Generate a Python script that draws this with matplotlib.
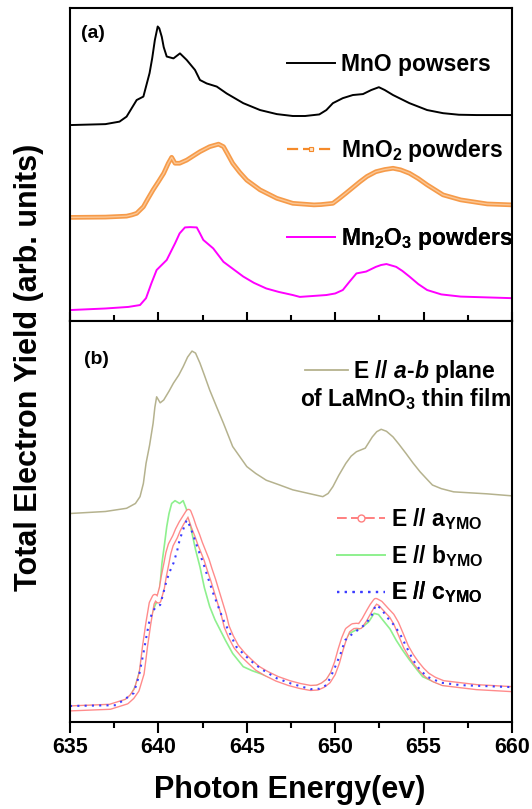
import matplotlib
matplotlib.use("Agg")
import matplotlib.pyplot as plt
from matplotlib.lines import Line2D
from matplotlib.ticker import MultipleLocator

plt.rcParams['font.family'] = ['Liberation Sans', 'DejaVu Sans']
plt.rcParams['font.weight'] = 'bold'
plt.rcParams['mathtext.fontset'] = 'custom'
plt.rcParams['mathtext.rm'] = 'Liberation Sans:bold'
plt.rcParams['mathtext.it'] = 'Liberation Sans:bold:italic'
plt.rcParams['mathtext.bf'] = 'Liberation Sans:bold'

# ---- panel (a): powder references (arb. units)
mno_e = [635.0, 637.0, 637.8, 638.2, 638.77, 639.15, 639.5, 639.65, 639.8, 639.96,
         640.05, 640.19, 640.3, 640.47, 640.85, 641.22, 641.6, 642.07, 642.35, 642.73,
         643.3, 643.86, 644.8, 645.75, 646.7, 647.6, 648.3, 649.1, 649.5, 649.87,
         650.43, 651.0, 651.57, 652.04, 652.47, 652.8, 653.27, 654.2, 655.2, 656.1,
         657.0, 658.0, 660.0]
mno_y = [62.6, 62.9, 63.7, 65.3, 70.6, 71.7, 79.2, 84.0, 89.8, 94.1,
         93.5, 90.8, 87.5, 84.5, 83.9, 85.5, 83.4, 80.2, 77.0, 75.9,
         74.9, 72.7, 69.6, 67.4, 66.1, 65.5, 65.5, 66.0, 67.4, 69.6,
         71.2, 72.2, 72.5, 73.8, 74.7, 73.8, 72.2, 69.6, 67.4, 66.4,
         65.9, 65.8, 65.8]

mno2_e = [635.0, 637.0, 638.2, 638.5, 638.77, 639.15, 639.4, 639.7, 640.0, 640.3,
          640.56, 640.75, 640.94, 641.2, 641.6, 642.35, 642.9, 643.4, 643.68, 643.9,
          644.2, 644.6, 645.0, 645.75, 646.7, 647.6, 648.8, 649.2, 649.87, 650.2,
          650.6, 651.4, 651.8, 652.3, 652.8, 653.27, 653.7, 654.2, 654.7, 655.2,
          656.1, 657.1, 658.6, 660.0]
mno2_y = [33.1, 33.2, 33.5, 33.9, 34.4, 36.5, 39.0, 41.9, 44.5, 47.2,
          50.4, 52.3, 50.4, 50.4, 51.4, 54.1, 55.7, 56.5, 55.7, 53.5,
          50.4, 47.5, 45.0, 41.9, 39.2, 37.6, 37.1, 37.2, 37.6, 39.0,
          40.8, 44.5, 46.2, 47.7, 48.4, 48.8, 48.3, 47.2, 45.5, 43.5,
          40.3, 38.7, 37.4, 37.1]

mn2o3_e = [635.0, 637.0, 638.3, 638.96, 639.3, 639.6, 639.9, 640.47, 640.94, 641.2,
           641.5, 641.8, 642.17, 642.35, 642.54, 643.1, 643.68, 644.8, 645.4, 646.1,
           646.8, 647.6, 648.0, 649.5, 650.0, 650.43, 650.8, 651.2, 651.75, 652.3,
           652.6, 652.9, 653.45, 653.8, 654.2, 654.7, 655.2, 656.0, 657.1, 660.0]
mn2o3_y = [3.5, 4.0, 4.5, 5.1, 7.3, 12.0, 16.3, 19.5, 24.8, 28.0,
           29.9, 30.0, 29.9, 28.0, 25.9, 23.2, 18.9, 14.2, 12.2, 10.4,
           9.3, 8.3, 7.7, 8.3, 8.8, 9.9, 12.5, 15.2, 15.8, 17.3,
           17.9, 18.2, 17.3, 16.0, 14.2, 11.8, 9.9, 8.5, 7.8, 7.3]

# ---- panel (b): LaMnO3 film and YMO polarisations
lmo_e = [635.0, 637.0, 638.2, 638.7, 638.96, 639.15, 639.3, 639.5, 639.7, 639.8,
         639.9, 640.1, 640.3, 640.6, 640.85, 641.15, 641.4, 641.65, 641.9, 642.1,
         642.35, 642.6, 642.9, 643.3, 643.68, 644.2, 645.0, 645.5, 646.1, 646.8,
         647.6, 648.5, 649.3, 649.6, 649.87, 650.2, 650.6, 650.9, 651.2, 651.7,
         652.1, 652.35, 652.6, 652.9, 653.27, 653.6, 654.0, 654.4, 654.8, 655.2,
         655.5, 656.0, 656.7, 658.6, 660.0]
lmo_y = [52.0, 52.5, 53.3, 54.5, 56.2, 59.5, 64.5, 69.0, 74.5, 78.5,
         81.1, 79.6, 80.3, 82.5, 84.5, 86.5, 88.6, 91.0, 92.5, 92.0,
         89.5, 86.5, 82.8, 78.5, 74.5, 68.7, 63.7, 62.0, 60.3, 59.2,
         57.9, 57.0, 56.2, 57.0, 58.7, 61.5, 64.5, 66.3, 67.4, 68.3,
         71.1, 72.4, 73.0, 72.5, 71.1, 69.3, 67.0, 64.6, 62.4, 60.5,
         59.1, 58.2, 57.4, 56.9, 56.4]

ya_e = [635.0, 637.26, 638.2, 638.5, 638.77, 639.05, 639.15, 639.24, 639.43, 639.62,
        639.8, 640.0, 640.2, 640.3, 640.45, 640.56, 640.7, 640.94, 641.1, 641.3,
        641.5, 641.7, 641.85, 642.0, 642.2, 642.35, 642.73, 642.9, 643.1, 643.3,
        643.5, 643.7, 643.86, 644.1, 644.4, 644.8, 645.2, 645.6, 646.1, 646.7,
        647.4, 648.0, 648.6, 649.0, 649.3, 649.6, 649.87, 650.1, 650.3, 650.5,
        650.7, 651.0, 651.2, 651.4, 651.65, 651.9, 652.1, 652.3, 652.55, 652.9,
        653.2, 653.45, 653.7, 654.0, 654.3, 654.6, 654.9, 655.2, 655.6, 656.1,
        658.0, 660.0]
ya_y = [3.4, 3.8, 5.1, 6.3, 8.0, 12.1, 15.5, 18.8, 24.6, 29.6,
        31.2, 30.3, 33.5, 36.2, 39.5, 42.1, 44.2, 46.2, 47.9, 49.6,
        51.0, 52.4, 50.7, 48.7, 46.5, 44.6, 40.4, 38.0, 35.4, 32.5,
        29.6, 26.7, 23.8, 21.3, 18.8, 16.7, 15.0, 13.4, 12.1, 10.8,
        9.7, 9.0, 8.5, 8.6, 9.2, 10.2, 12.1, 14.8, 18.0, 20.8,
        22.9, 23.9, 24.0, 23.9, 25.5, 27.5, 29.0, 30.2, 29.6, 27.9,
        26.5, 24.6, 22.0, 18.8, 16.5, 14.6, 13.0, 11.7, 10.6, 9.7,
        8.7, 8.2]

yb_e = [635.0, 637.6, 638.4, 638.7, 638.96, 639.1, 639.3, 639.5, 639.7, 639.85,
        640.0, 640.1, 640.2, 640.35, 640.47, 640.6, 640.75, 640.94, 641.2, 641.4,
        641.6, 641.75, 641.9, 642.1, 642.35, 642.6, 642.9, 643.2, 643.5, 643.8,
        644.2, 644.8, 645.3, 645.75, 646.3, 646.9, 647.6, 648.4, 648.9, 649.3,
        649.6, 649.87, 650.15, 650.43, 650.6, 650.8, 651.2, 651.57, 651.9, 652.2,
        652.45, 652.7, 653.1, 653.45, 653.8, 654.2, 654.6, 654.95, 655.5, 656.1,
        660.0]
yb_y = [3.8, 4.2, 6.3, 9.0, 13.0, 17.0, 22.1, 25.5, 27.9, 29.5,
        30.4, 34.5, 39.6, 44.5, 48.7, 52.0, 54.5, 55.2, 54.5, 55.2,
        52.9, 50.5, 47.1, 43.0, 38.7, 33.5, 28.8, 25.5, 22.9, 20.3,
        17.1, 13.8, 12.8, 12.1, 11.2, 10.5, 9.6, 8.8, 9.0, 9.7,
        11.0, 13.0, 15.5, 18.8, 20.8, 22.1, 23.0, 23.8, 25.0, 27.1,
        26.8, 25.4, 23.2, 20.4, 18.0, 15.5, 13.2, 11.3, 10.2, 9.2,
        8.4]

yc_e = [635.0, 637.6, 638.6, 638.9, 639.15, 639.35, 639.5, 639.65, 639.8, 640.1,
        640.3, 640.47, 640.65, 640.85, 641.05, 641.2, 641.4, 641.6, 641.8, 642.0,
        642.25, 642.54, 642.8, 643.1, 643.4, 643.68, 644.0, 644.4, 644.9, 645.4,
        645.9, 646.7, 647.5, 648.6, 649.1, 649.5, 649.75, 650.0, 650.3, 650.56,
        651.0, 651.4, 651.75, 652.05, 652.3, 652.6, 652.9, 653.3, 653.65, 654.0,
        654.4, 654.8, 655.2, 656.0, 657.1, 660.0]
yc_y = [4.0, 4.2, 7.2, 11.5, 17.1, 22.0, 25.4, 27.2, 28.4, 29.2,
        32.5, 35.4, 37.6, 39.6, 42.5, 45.4, 48.0, 50.4, 48.7, 46.2,
        43.0, 39.6, 36.0, 32.1, 28.6, 25.4, 22.5, 18.8, 16.6, 14.6,
        13.0, 10.9, 9.6, 8.2, 8.3, 9.2, 11.3, 13.8, 17.0, 20.4,
        22.1, 23.3, 24.6, 26.5, 29.2, 28.3, 26.3, 24.3, 22.1, 19.0,
        15.5, 13.0, 11.3, 9.8, 9.2, 8.7]

orange = '#f58a2a'
orange_light = '#fbc795'
pink = '#ff7f7f'
green = '#8ef08e'
blue = '#3c3cff'
khaki = '#b5b28e'

fig = plt.figure(figsize=(5.32, 8.09), dpi=100)
ax1 = fig.add_axes([0.1316, 0.6032, 0.8308, 0.3869])
ax2 = fig.add_axes([0.1316, 0.1075, 0.8308, 0.4957])

# panel (a)
ax1.plot(mno_e, mno_y, color='black', lw=1.4)
ax1.plot(mno2_e, mno2_y, color=orange, lw=3.4, alpha=0.85)
ax1.plot(mno2_e, mno2_y, color=orange_light, lw=1.0)
ax1.plot(mn2o3_e, mn2o3_y, color='#ff00ff', lw=1.4)

# panel (b)
ax2.plot(lmo_e, lmo_y, color=khaki, lw=1.1)
ax2.plot(yb_e, yb_y, color=green, lw=1.2)
ax2.plot(ya_e, ya_y, color=pink, lw=4.6, alpha=0.9)
ax2.plot(ya_e, ya_y, color='white', lw=2.6)
ax2.plot(yc_e, yc_y, color=blue, lw=1.5, dashes=(1, 2.5))

for ax in (ax1, ax2):
    ax.set_xlim(635, 660)
    ax.set_ylim(0, 100)
    ax.set_yticks([])
    ax.xaxis.set_major_locator(MultipleLocator(5))
    ax.xaxis.set_minor_locator(MultipleLocator(2.5))
    for s in ax.spines.values():
        s.set_linewidth(1.5)

ax1.tick_params(axis='x', which='major', direction='inout', length=13.5, width=1.5,
                labelbottom=False)
ax1.tick_params(axis='x', which='minor', direction='inout', length=8.5, width=1.5)
ax2.tick_params(axis='x', which='major', direction='out', length=7.7, width=1.5,
                labelsize=15.5, pad=3)
ax2.tick_params(axis='x', which='minor', direction='out', length=4, width=1.5)
for lab in ax2.get_xticklabels():
    lab.set_fontweight('bold')

ax1.text(0.052, 0.92, '(a)', transform=ax1.transAxes, fontsize=14,
         ha='center', va='center')
ax2.text(0.06, 0.903, '(b)', transform=ax2.transAxes, fontsize=14,
         ha='center', va='center')

leg_fs = 16.5
def add_leg(ax, handle, label, x, y, hl=2.1, pad=0.29):
    lg = ax.legend([handle], [label], loc='center left', bbox_to_anchor=(x, y),
                   frameon=False, fontsize=leg_fs, handlelength=hl,
                   handletextpad=pad, borderpad=0, borderaxespad=0, numpoints=1)
    ax.add_artist(lg)

h_mno = Line2D([], [], color='black', lw=1.4)
h_mno2 = Line2D([], [], color=orange, lw=1.6, dashes=(5, 2.2), marker='s',
                markersize=3.5, markerfacecolor='#fde3c8', markeredgecolor=orange,
                markeredgewidth=0.8)
h_mn2o3 = Line2D([], [], color='#ff00ff', lw=1.4)
add_leg(ax1, h_mno, 'MnO powsers', 0.490, 0.818)
add_leg(ax1, h_mno2, 'MnO$_2$ powders', 0.490, 0.546)
add_leg(ax1, h_mn2o3, 'Mn$_2$O$_3$ powders', 0.490, 0.265)

h_lmo = Line2D([], [], color=khaki, lw=1.3)
add_leg(ax2, h_lmo, r'E $\mathit{//}$ $\mathit{a}$-$\mathit{b}$ plane', 0.532, 0.873,
        hl=1.85, pad=0.22)
ax2.text(0.520, 0.788, 'of LaMnO$_3$ thin film', transform=ax2.transAxes,
         fontsize=leg_fs, ha='left', va='baseline')

h_ya = Line2D([], [], color=pink, lw=1.4, dashes=(5, 2.2), marker='o',
              markersize=5, markerfacecolor='white', markeredgecolor=pink,
              markeredgewidth=1.0)
h_yb = Line2D([], [], color=green, lw=1.4)
h_yc = Line2D([], [], color=blue, lw=1.6, dashes=(1, 2.5))
add_leg(ax2, h_ya, 'E // a$_{\\rm YMO}$', 0.603, 0.506)
add_leg(ax2, h_yb, 'E // b$_{\\rm YMO}$', 0.603, 0.415)
add_leg(ax2, h_yc, 'E // c$_{\\rm YMO}$', 0.603, 0.323)

fig.text(0.0545, 0.5464, 'Total Electron Yield (arb. units)', rotation=90,
         fontsize=22, ha='center', va='center')
fig.text(0.545, 0.0136, 'Photon Energy(ev)', fontsize=22, ha='center', va='baseline')

fig.savefig('out.png', dpi=100)
